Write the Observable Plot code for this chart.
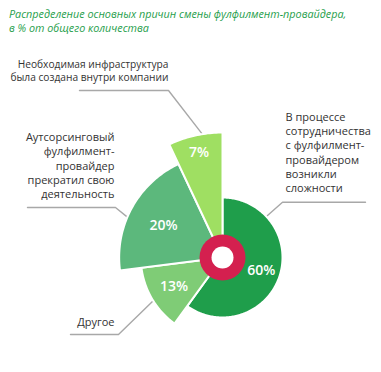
<!DOCTYPE html>
<html><head><meta charset="utf-8">
<script src="https://cdn.jsdelivr.net/npm/d3@7"></script>
<script src="https://cdn.jsdelivr.net/npm/@observablehq/plot@0.6"></script>
<style>
body{margin:0;background:#fff}
#wrap{position:relative;width:381px;height:372px;overflow:hidden}
#title{position:absolute;left:9px;top:7px;font:italic 10.8px "Open Sans";color:#1f9e4b;line-height:14px;white-space:nowrap}
#wrap svg{position:absolute;left:0;top:0}
</style></head><body>
<div id="wrap"><div id="title">Распределение основных причин смены фулфилмент-провайдера,<br>в % от общего количества</div></div>
<script>
// ---- data (clockwise from 12 o'clock) ----
const categories = [
  "В процессе сотрудничества с фулфилмент-провайдером возникли сложности",
  "Другое",
  "Аутсорсинговый фулфилмент-провайдер прекратил свою деятельность",
  "Необходимая инфраструктура была создана внутри компании"
];
const values = [60, 13, 20, 7];
const valueLabels = ["60%", "13%", "20%", "7%"];
const categoryLabels = [
  "В процессе\nсотрудничества\nс фулфилмент-\nпровайдером\nвозникли\nсложности",
  "Другое",
  "Аутсорсинговый\nфулфилмент-\nпровайдер\nпрекратил свою\nдеятельность",
  "Необходимая инфраструктура\nбыла создана внутри компании"
];

// ---- styles / layout ----
const colors = ["#1f9e4b", "#7fcc76", "#5cb87c", "#9fdf62"];
const radius = d3.scaleLinear().domain([0, 3]).range([60, 125]);
const labelRadiusFrac = [0.68, 0.69, 0.65, 0.86];
// callout layout: anchor angle on slice edge (deg), elbow & end points, text anchor
const callouts = [
  {angle: 47,  elbow: [60, 55.3],   end: [143, 55.3],  tx: 63,   ty: 105.5, anchor: "start", lh: 1.3, fs: 11},
  {angle: 238, elbow: [-104, -77],  end: [-152, -77],  tx: -108, ty: -64,   anchor: "end",   lh: 1.3, fs: 11},
  {angle: 293, elbow: [-107, 50],   end: [-195, 50],   tx: -108, ty: 92.5,  anchor: "end",   lh: 1.3, fs: 11},
  {angle: 350.7, elbow: [-54, 167], end: [-143, 167],  tx: -54,  ty: 187.5, anchor: "end",   lh: 1.27, fs: 10.2}
];

const total = d3.sum(values);
const cum = d3.cumsum(values);
const polar = (deg, r) => {
  const a = deg * Math.PI / 180;
  return [r * Math.sin(a), r * Math.cos(a)];
};

const slicePts = [];
const textPts = [];
categories.forEach((c, i) => {
  const a0 = (cum[i] - values[i]) / total * 360;
  const a1 = cum[i] / total * 360;
  const r = radius(i);
  slicePts.push({k: c, x: 0, y: 0});
  const n = Math.max(8, Math.ceil(a1 - a0));
  for (let j = 0; j <= n; j++) {
    const [x, y] = polar(a0 + (a1 - a0) * j / n, r);
    slicePts.push({k: c, x, y});
  }
  slicePts.push({k: c, x: 0, y: 0});
  const [lx, ly] = polar((a0 + a1) / 2, r * labelRadiusFrac[i]);
  textPts.push({x: lx, y: ly, t: valueLabels[i]});
});

const leaderPts = [];
callouts.forEach((co, i) => {
  const [sx, sy] = polar(co.angle, radius(i));
  leaderPts.push({k: i, x: sx, y: sy}, {k: i, x: co.elbow[0], y: co.elbow[1]}, {k: i, x: co.end[0], y: co.end[1]});
});

const calloutMarks = callouts.map((co, i) =>
  Plot.text([{x: co.tx, y: co.ty, t: categoryLabels[i]}], {
    x: "x", y: "y", text: "t", textAnchor: co.anchor, lineAnchor: "middle",
    lineHeight: co.lh, fontSize: co.fs, fill: "#333"
  })
);

const chart = Plot.plot({
  width: 381, height: 372, margin: 0,
  x: {domain: [-222, 159], axis: null},
  y: {domain: [-115, 257], axis: null},
  color: {domain: categories, range: colors},
  style: {fontFamily: "Open Sans", background: "transparent"},
  marks: [
    Plot.line(leaderPts, {x: "x", y: "y", z: "k", stroke: "#a8a8a8", strokeWidth: 1.4, curve: "linear"}),
    Plot.line(slicePts, {x: "x", y: "y", z: "k", fill: "k", stroke: "white", strokeWidth: 2, curve: "linear", strokeLinejoin: "round"}),
    Plot.dot([{x: 0, y: 0}], {x: "x", y: "y", r: 23, fill: "#d4204f", stroke: null}),
    Plot.dot([{x: 0, y: 0}], {x: "x", y: "y", r: 11, fill: "white", stroke: null}),
    Plot.text(textPts, {x: "x", y: "y", text: "t", fill: "white", fontSize: 14, fontWeight: 600}),
    ...calloutMarks
  ]
});
document.getElementById("wrap").appendChild(chart);
</script>
</body></html>
